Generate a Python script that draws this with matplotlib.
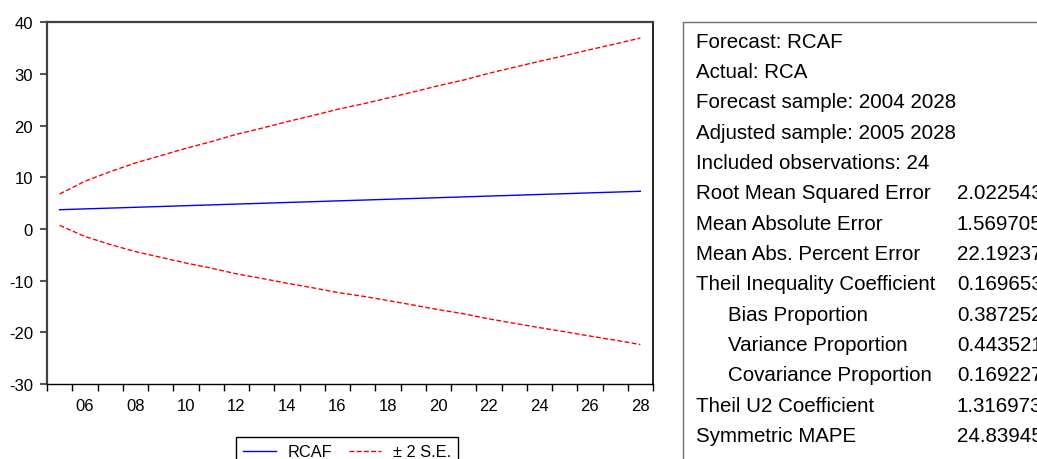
import numpy as np
import matplotlib.pyplot as plt
from matplotlib.patches import Rectangle

plt.rcParams['font.family'] = ['Liberation Sans', 'DejaVu Sans']
plt.rcParams['axes.unicode_minus'] = False

# forecast RCAF, 2005-2028
years = list(range(2005, 2029))
rcaf = [3.73, 3.89, 4.04, 4.20, 4.35, 4.51, 4.66, 4.82, 4.97, 5.13, 5.28, 5.44,
        5.59, 5.75, 5.90, 6.06, 6.21, 6.37, 6.52, 6.68, 6.83, 6.99, 7.14, 7.30]
upper = [6.77, 9.23, 11.09, 12.77, 14.18, 15.61, 16.89, 18.32, 19.49, 20.76, 21.92, 23.16,
         24.19, 25.35, 26.51, 27.73, 28.83, 30.13, 31.29, 32.45, 33.54, 34.70, 35.80, 36.96]
lower = [0.69, -1.45, -3.01, -4.37, -5.48, -6.59, -7.57, -8.68, -9.55, -10.50, -11.36, -12.28,
         -13.01, -13.85, -14.71, -15.61, -16.41, -17.39, -18.25, -19.09, -19.88, -20.72, -21.52, -22.36]

stat_labels = ["Forecast: RCAF", "Actual: RCA", "Forecast sample: 2004 2028",
               "Adjusted sample: 2005 2028", "Included observations: 24",
               "Root Mean Squared Error", "Mean Absolute Error", "Mean Abs. Percent Error",
               "Theil Inequality Coefficient", "Bias Proportion", "Variance Proportion",
               "Covariance Proportion", "Theil U2 Coefficient", "Symmetric MAPE"]
stat_values = ["", "", "", "", "", "2.022543", "1.569705", "22.19237", "0.169653",
               "0.387252", "0.443521", "0.169227", "1.316973", "24.83945"]
indented = ["Bias Proportion", "Variance Proportion", "Covariance Proportion"]

W, H = 1037, 460
fig = plt.figure(figsize=(W / 100, H / 100), dpi=100)
ax = fig.add_axes([47 / W, 1 - 385 / H, (653 - 47) / W, (385 - 23.3) / H])

x = np.arange(len(years))
l1, = ax.plot(x, rcaf, color='#0000FF', lw=1.0)
l2, = ax.plot(x, upper, color='#FF0000', lw=1.0, dashes=(3.5, 1.7))
ax.plot(x, lower, color='#FF0000', lw=1.0, dashes=(3.5, 1.7))

ax.set_xlim(-0.5, len(years) - 0.5)
ax.set_ylim(-30, 40)
ax.set_yticks(np.arange(-30, 41, 10))

# ticks on year boundaries, labels in the middle of even years
ax.set_xticks(np.arange(-0.5, len(years), 1.0))
ax.set_xticklabels([])
ax.set_xticks([i for i, y in enumerate(years) if y % 2 == 0], minor=True)
ax.set_xticklabels(['%02d' % (y % 100) for y in years if y % 2 == 0], minor=True)
ax.tick_params(axis='x', which='major', direction='out', length=5, width=1, color='black')
ax.tick_params(axis='x', which='minor', length=0, pad=10, labelsize=12)
ax.tick_params(axis='y', direction='out', length=5, width=1.5, color='#555555', pad=5, labelsize=12)

ax.spines['left'].set_color('#404040')
ax.spines['left'].set_linewidth(1.6)
ax.spines['top'].set_color('#404040')
ax.spines['top'].set_linewidth(1.6)
ax.spines['right'].set_color('black')
ax.spines['right'].set_linewidth(1.2)
ax.spines['bottom'].set_color('black')
ax.spines['bottom'].set_linewidth(1.0)

leg = fig.legend([l1, l2], ['RCAF', '\u00b1 2 S.E.'], loc='upper left',
                 bbox_to_anchor=(236 / W, 1 - 438 / H), ncol=2, fontsize=11.8,
                 frameon=True, fancybox=False, edgecolor='black', framealpha=1,
                 borderaxespad=0, handlelength=2.0, handletextpad=0.7,
                 columnspacing=1.0, borderpad=0.45)
leg.get_frame().set_linewidth(1.0)

# statistics box on the right
fig.patches.append(Rectangle((683 / W, -0.1), 1.0, 1 - 23.3 / H + 0.1,
                             transform=fig.transFigure, fill=False,
                             edgecolor='#707070', lw=1.0))
for i, (lab, val) in enumerate(zip(stat_labels, stat_values)):
    yc = 1 - (42 + 30.35 * i) / H
    xl = 728 if lab in indented else 696
    fig.text(xl / W, yc, lab, fontsize=14.8, va='center', ha='left')
    if val:
        fig.text(957 / W, yc, val, fontsize=14.8, va='center', ha='left')

fig.savefig('out.png', dpi=100)
